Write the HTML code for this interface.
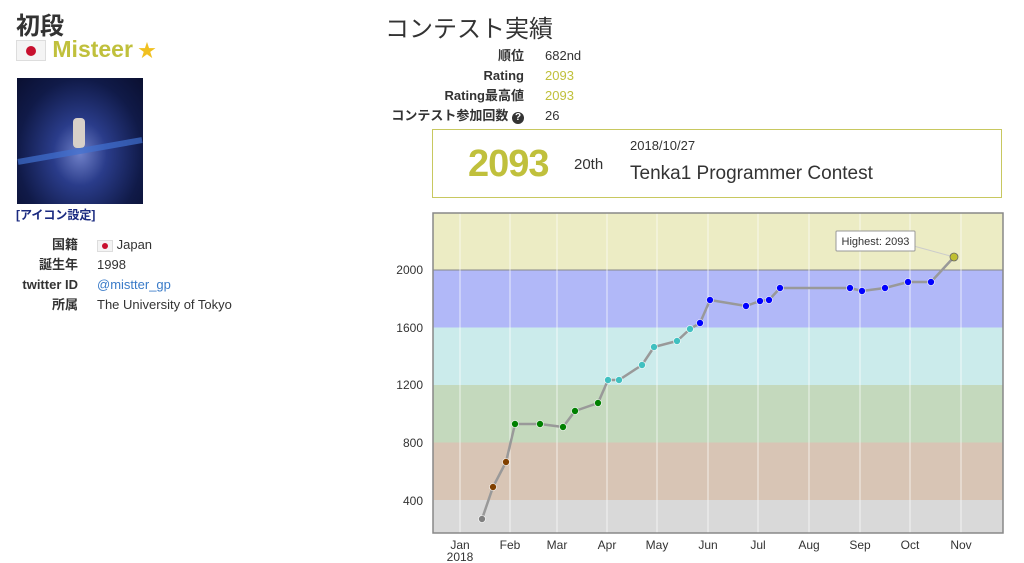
<!DOCTYPE html>
<html><head><meta charset="utf-8"><style>
body{margin:0;width:1024px;height:563px;background:#fff;font-family:"Liberation Sans","Noto Sans CJK JP",sans-serif;color:#333;position:relative;overflow:hidden}
.a{position:absolute;white-space:nowrap}
.flag{display:inline-block;background:#f4f4f4;border:1px solid #ddd;position:relative;vertical-align:middle}
.flag::after{content:"";position:absolute;border-radius:50%;background:#c8102e;left:50%;top:50%;transform:translate(-50%,-50%)}
.f1{width:28px;height:19px}.f1::after{width:10px;height:10px}
.f2{width:14px;height:10px}.f2::after{width:6px;height:6px}
.r{text-align:right;font-weight:bold}
</style></head><body>
<div class="a" style="left:16px;top:6px;font-size:24px;font-weight:bold;color:#333">初段</div>
<div class="a" style="left:16px;top:36px;font-size:23px;font-weight:bold;color:#c0c03c"><span class="flag f1"></span> Misteer<span style="color:#f0c020;font-size:18px"> ★</span></div>
<div class="a" style="left:17px;top:78px;width:126px;height:126px;background:radial-gradient(ellipse at 50% 60%,#6f80c8 0%,#2a3c8a 30%,#101a48 70%,#0a0f30 100%)">
<div style="position:absolute;left:56px;top:40px;width:12px;height:30px;background:#d8d0c8;border-radius:4px"></div>
<div style="position:absolute;left:0;top:70px;width:126px;height:6px;background:#4070d0;transform:rotate(-10deg);opacity:.7"></div></div>
<div class="a" style="left:16px;top:206px;font-size:12px;font-weight:bold;color:#1a2a80">[アイコン設定]</div>
<div class="a r" style="left:0;width:78px;top:235px;font-size:13px;line-height:20px">国籍<br>誕生年<br>twitter ID<br>所属</div>
<div class="a" style="left:97px;top:235px;font-size:13px;line-height:20px"><span class="flag f2"></span> Japan<br>1998<br><span style="color:#3a7bc8">@mistter_gp</span><br>The University of Tokyo</div>

<div class="a" style="left:385px;top:9px;font-size:24px;color:#333">コンテスト実績</div>
<div class="a r" style="left:380px;width:144px;top:46px;font-size:13px;line-height:20px">順位<br>Rating<br>Rating最高値<br>コンテスト参加回数 <span style="display:inline-block;width:12px;height:12px;border-radius:50%;background:#333;color:#fff;font-size:10px;line-height:12px;text-align:center">?</span></div>
<div class="a" style="left:545px;top:46px;font-size:13px;line-height:20px">682nd<br><span style="color:#c0c03c">2093</span><br><span style="color:#c0c03c">2093</span><br>26</div>

<div class="a" style="left:432px;top:129px;width:570px;height:69px;border:1px solid #c8c860;box-sizing:border-box"></div>
<div class="a" style="left:468px;top:143px;font-size:38px;font-weight:bold;color:#c0c03c;letter-spacing:-1px">2093</div>
<div class="a" style="left:574px;top:156px;font-size:15px">20th</div>
<div class="a" style="left:630px;top:138px;font-size:13px">2018/10/27</div>
<div class="a" style="left:630px;top:163px;font-size:19px">Tenka1 Programmer Contest</div>

<svg class="a" style="left:0;top:0" width="1024" height="563">
<rect x="433" y="213" width="570" height="57" fill="#ececc4"/>
<rect x="433" y="270" width="570" height="57.5" fill="#b1b8f8"/>
<rect x="433" y="327.5" width="570" height="57.5" fill="#cbebeb"/>
<rect x="433" y="385" width="570" height="57.5" fill="#c4d9bd"/>
<rect x="433" y="442.5" width="570" height="57.5" fill="#d8c5b5"/>
<rect x="433" y="500" width="570" height="33" fill="#d9d9d9"/>
<line x1="433" y1="270" x2="1003" y2="270" stroke="#888" stroke-width="1"/>
<g stroke="#fff" stroke-opacity=".7" stroke-width="1">
<line x1="460" y1="213" x2="460" y2="533"/><line x1="510" y1="213" x2="510" y2="533"/><line x1="557" y1="213" x2="557" y2="533"/><line x1="607" y1="213" x2="607" y2="533"/><line x1="657" y1="213" x2="657" y2="533"/><line x1="708" y1="213" x2="708" y2="533"/><line x1="758" y1="213" x2="758" y2="533"/><line x1="809" y1="213" x2="809" y2="533"/><line x1="860" y1="213" x2="860" y2="533"/><line x1="910" y1="213" x2="910" y2="533"/><line x1="961" y1="213" x2="961" y2="533"/>
</g>
<rect x="433" y="213" width="570" height="320" fill="none" stroke="#888" stroke-width="1.5"/>
<g font-size="12" fill="#333" text-anchor="end">
<text x="423" y="274">2000</text><text x="423" y="332">1600</text><text x="423" y="389">1200</text><text x="423" y="447">800</text><text x="423" y="505">400</text></g>
<g font-size="12" fill="#333" text-anchor="middle">
<text x="460" y="549">Jan</text><text x="460" y="561">2018</text><text x="510" y="549">Feb</text><text x="557" y="549">Mar</text><text x="607" y="549">Apr</text><text x="657" y="549">May</text><text x="708" y="549">Jun</text><text x="758" y="549">Jul</text><text x="809" y="549">Aug</text><text x="860" y="549">Sep</text><text x="910" y="549">Oct</text><text x="961" y="549">Nov</text></g>
<polyline fill="none" stroke="#999" stroke-width="2.5" points="482,519 493,487 506,462 515,424 540,424 563,427 575,411 598,403 608,380 619,380 642,365 654,347 677,341 690,329 700,323 710,300 746,306 760,301 769,300 780,288 850,288 862,291 885,288 908,282 931,282 954,257"/>
<line x1="954" y1="257" x2="910" y2="245" stroke="#ccc"/>
<g stroke="#fff" stroke-width=".6">
<circle cx="482" cy="519" r="3.5" fill="#808080"/>
<g fill="#804000"><circle cx="493" cy="487" r="3.5"/><circle cx="506" cy="462" r="3.5"/></g>
<g fill="#008000"><circle cx="515" cy="424" r="3.5"/><circle cx="540" cy="424" r="3.5"/><circle cx="563" cy="427" r="3.5"/><circle cx="575" cy="411" r="3.5"/><circle cx="598" cy="403" r="3.5"/></g>
<g fill="#40c0c0"><circle cx="608" cy="380" r="3.5"/><circle cx="619" cy="380" r="3.5"/><circle cx="642" cy="365" r="3.5"/><circle cx="654" cy="347" r="3.5"/><circle cx="677" cy="341" r="3.5"/><circle cx="690" cy="329" r="3.5"/></g>
<g fill="#0000ff"><circle cx="700" cy="323" r="3.5"/><circle cx="710" cy="300" r="3.5"/><circle cx="746" cy="306" r="3.5"/><circle cx="760" cy="301" r="3.5"/><circle cx="769" cy="300" r="3.5"/><circle cx="780" cy="288" r="3.5"/><circle cx="850" cy="288" r="3.5"/><circle cx="862" cy="291" r="3.5"/><circle cx="885" cy="288" r="3.5"/><circle cx="908" cy="282" r="3.5"/><circle cx="931" cy="282" r="3.5"/></g>
</g>
<circle cx="954" cy="257" r="4" fill="#c0c030" stroke="#666" stroke-width=".8"/>
<rect x="836" y="231" width="79" height="20" fill="#fff" stroke="#999" rx="1"/>
<text x="875.5" y="245" font-size="11" text-anchor="middle" fill="#333">Highest: 2093</text>
</svg>
</body></html>
